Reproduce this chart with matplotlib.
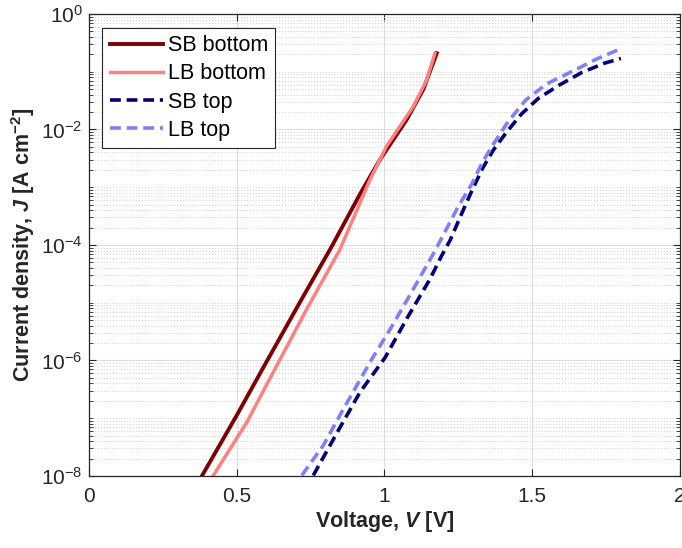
""" J-V curves of bottom and top cells (log scale). """
import matplotlib
matplotlib.use("Agg")
import matplotlib.pyplot as plt
import numpy as np
from matplotlib.ticker import FixedLocator, NullFormatter

plt.rcParams['font.family'] = ['Liberation Sans', 'DejaVu Sans']
plt.rcParams['mathtext.fontset'] = 'custom'
plt.rcParams['mathtext.rm'] = 'Liberation Sans'
plt.rcParams['mathtext.it'] = 'Liberation Sans:italic:bold'
plt.rcParams['mathtext.bf'] = 'Liberation Sans:bold'

# voltages [V] and log10 of current density [A cm^-2]
sb_bottom_v = [0.382, 0.500, 0.601, 0.714, 0.821, 0.917, 0.985, 1.075, 1.131, 1.177]
sb_bottom_logj = [-8.0, -6.95, -6.02, -4.99, -4.03, -3.12, -2.52, -1.83, -1.31, -0.68]

lb_bottom_v = [0.421, 0.534, 0.629, 0.737, 0.849, 0.951, 1.007, 1.098, 1.143, 1.171]
lb_bottom_logj = [-7.99, -7.07, -6.15, -5.11, -4.08, -2.87, -2.29, -1.60, -1.14, -0.68]

sb_top_v = [0.759, 0.844, 0.917, 1.002, 1.075, 1.154, 1.193, 1.222, 1.267, 1.295,
            1.331, 1.368, 1.414, 1.464, 1.521, 1.592, 1.669, 1.746, 1.800]
sb_top_logj = [-7.99, -7.21, -6.55, -5.95, -5.28, -4.59, -4.19, -3.92, -3.39, -3.07,
               -2.68, -2.36, -2.04, -1.73, -1.46, -1.23, -1.01, -0.85, -0.77]

lb_top_v = [0.720, 0.793, 0.861, 0.951, 1.019, 1.097, 1.171, 1.250, 1.295, 1.331,
            1.374, 1.419, 1.478, 1.549, 1.633, 1.718, 1.800]
lb_top_logj = [-7.99, -7.47, -6.84, -6.03, -5.46, -4.77, -4.10, -3.33, -2.95, -2.57,
               -2.21, -1.86, -1.49, -1.21, -1.0, -0.78, -0.60]

x_ticks = [0, 0.5, 1, 1.5, 2]
x_tick_labels = ['0', '0.5', '1', '1.5', '2']
y_ticks = [1e-8, 1e-6, 1e-4, 1e-2, 1e0]
y_tick_labels = [r'$10^{-8}$', r'$10^{-6}$', r'$10^{-4}$', r'$10^{-2}$', r'$10^{0}$']

fig = plt.figure(figsize=(6.82, 5.48), dpi=100)
ax = fig.add_axes([0.1305, 0.1314, 0.8665, 0.8431])

dash = (0, (3, 1.6))
ax.plot(sb_bottom_v, 10 ** np.array(sb_bottom_logj), color='#800000', lw=2.8, label='SB bottom')
ax.plot(lb_bottom_v, 10 ** np.array(lb_bottom_logj), color='#ff8080', lw=2.5, label='LB bottom')
ax.plot(sb_top_v, 10 ** np.array(sb_top_logj), color='#000080', lw=2.6, ls=dash, label='SB top')
ax.plot(lb_top_v, 10 ** np.array(lb_top_logj), color='#8080ff', lw=2.6, ls=dash, label='LB top')

ax.set_yscale('log')
ax.set_xlim(0, 2)
ax.set_ylim(1e-8, 1e0)
ax.set_xticks(x_ticks)
ax.set_xticklabels(x_tick_labels)
ax.yaxis.set_major_locator(FixedLocator(y_ticks))
ax.set_yticklabels(y_tick_labels)
minor = [m * 10.0 ** k for k in range(-8, 0) for m in range(1, 10) if m * 10.0 ** k not in y_ticks]
ax.yaxis.set_minor_locator(FixedLocator(minor))
ax.yaxis.set_minor_formatter(NullFormatter())

ax.tick_params(which='both', direction='in', top=True, right=True, labelsize=15, colors='#262626')
ax.tick_params(which='major', length=5, width=0.8)
ax.tick_params(which='minor', length=3, width=0.6)
ax.tick_params(axis='x', which='major', pad=8)
ax.tick_params(axis='y', which='major', pad=4.5)
ax.tick_params(axis='x', which='minor', bottom=False, top=False)
for s in ax.spines.values():
    s.set_color('#262626')
    s.set_linewidth(0.9)

ax.grid(True, which='major', color='#dedede', lw=0.8, ls='-')
ax.grid(True, which='minor', axis='y', color='#cfcfcf', lw=0.7, ls=(0, (1, 2)))
ax.set_axisbelow(True)

ax.set_xlabel(r'Voltage, $V$ [V]', fontsize=15.5, fontweight='bold', color='#262626', labelpad=2)
ax.set_ylabel(r'Current density, $J$ [A cm$^{\mathbf{-2}}$]', fontsize=15.5, fontweight='bold',
              color='#262626', labelpad=3)

leg = ax.legend(loc='upper left', bbox_to_anchor=(0.022, 0.970), fontsize=15.5, fancybox=False,
                framealpha=1, edgecolor='#262626', handlelength=2.5, borderaxespad=0,
                handletextpad=0.2, borderpad=0.35, labelspacing=0.33)
leg.get_frame().set_linewidth(0.8)

fig.savefig('out.png', dpi=100)
